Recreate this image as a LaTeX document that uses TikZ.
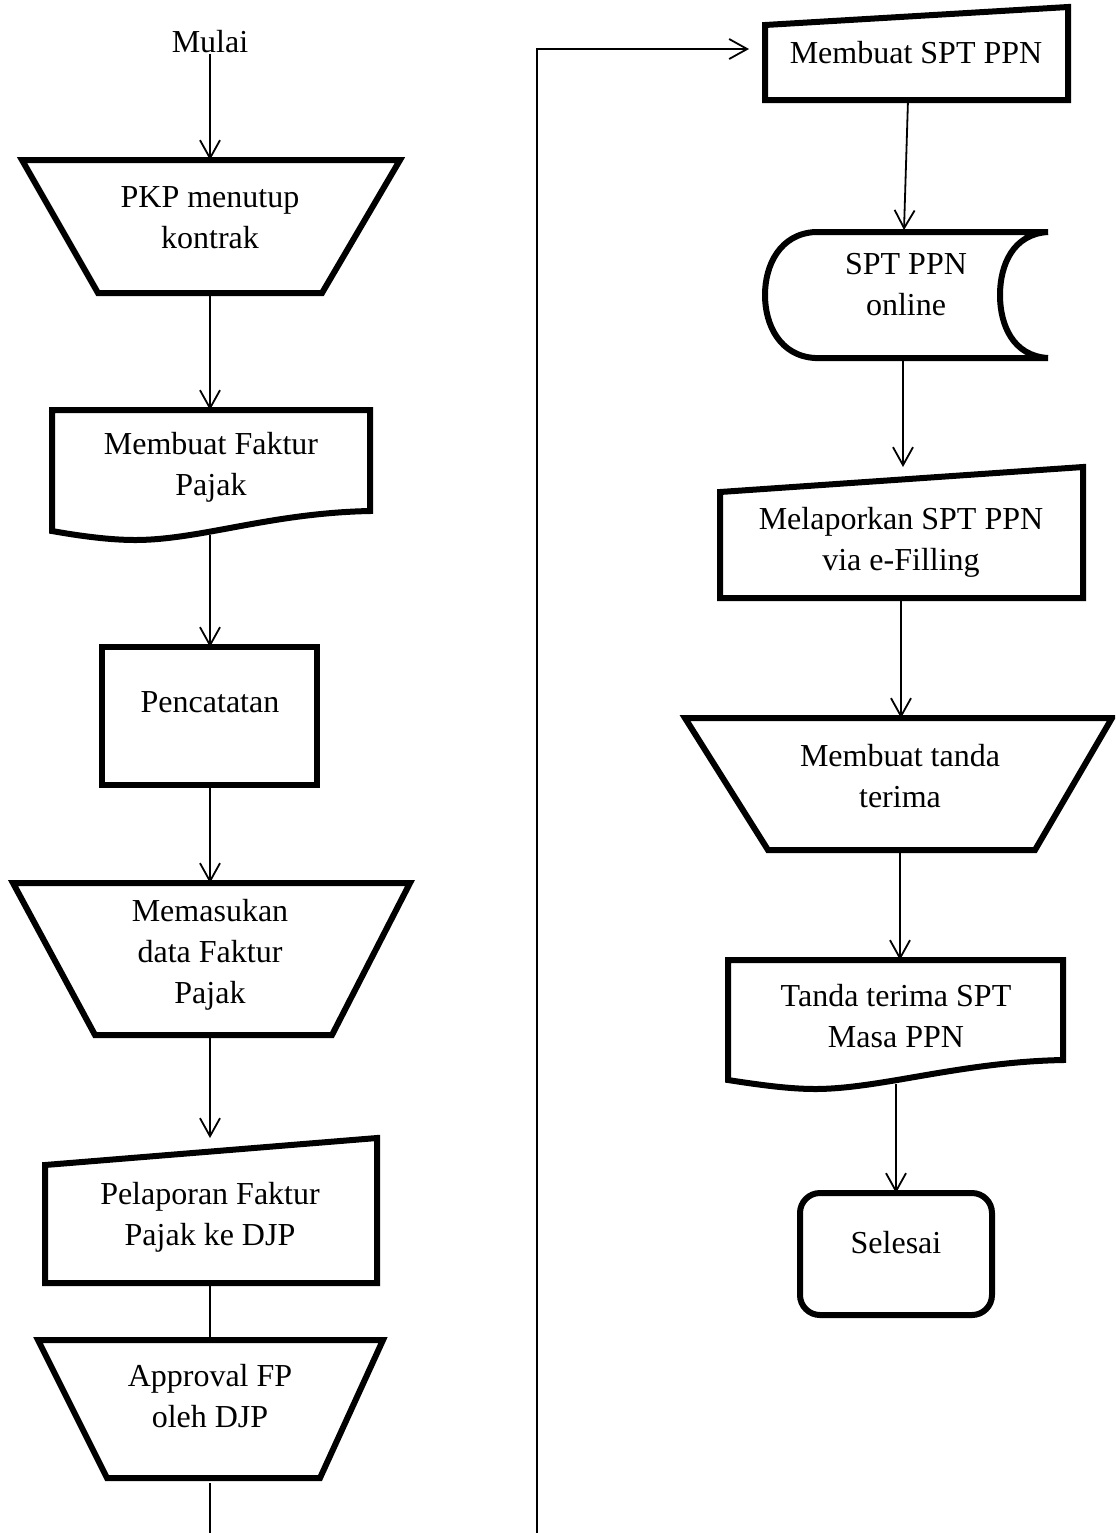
\documentclass[tikz,border=0pt]{standalone}
\usepackage{fontspec}
\setmainfont{Liberation Serif}
\usetikzlibrary{arrows.meta}

\begin{document}
\begin{tikzpicture}[x=0.5pt,y=-0.5pt,
  shp/.style={line width=3pt,line join=miter},
  flow/.style={line width=0.9pt,-{Straight Barb[length=9pt,width=10pt]}},
  link/.style={line width=0.9pt},
  lbl/.style={align=center,inner sep=0pt,font=\fontsize{16}{20.5}\selectfont}]
\path[use as bounding box,clip] (0,0) rectangle (1115,1533);

% kolom kiri
\node[lbl] (mulai) at (210,42) {Mulai};

\draw[shp] (22,160) -- (400,160) -- (322,293) -- (98,293) -- cycle;
\node[lbl] (pkp) at (210,218) {PKP menutup\\kontrak};
\coordinate (pkp-t) at (210,160);
\coordinate (pkp-b) at (210,293);

\draw[shp] (52,410) -- (370,410) -- (370,511)
  .. controls (270,513) and (200,540) .. (135,540)
  .. controls (110,540) and (80,536) .. (52,531) -- cycle;
\node[lbl] (faktur) at (211,467) {Membuat Faktur\\Pajak};
\coordinate (faktur-t) at (210,410);
\coordinate (faktur-b) at (210,535);

\draw[shp] (102,647) rectangle (317,785);
\node[lbl] (catat) at (210,702) {Pencatatan};
\coordinate (catat-t) at (210,647);
\coordinate (catat-b) at (210,785);

\draw[shp] (13,883) -- (410,883) -- (332,1035) -- (95,1035) -- cycle;
\node[lbl] (input) at (210,955) {Memasukan\\data Faktur\\Pajak};
\coordinate (input-t) at (210,883);
\coordinate (input-b) at (210,1035);

\draw[shp] (45,1165) -- (377,1138) -- (377,1283) -- (45,1283) -- cycle;
\node[lbl] (lapor) at (210,1217) {Pelaporan Faktur\\Pajak ke DJP};
\coordinate (lapor-t) at (210,1138);
\coordinate (lapor-b) at (210,1283);

\draw[shp] (38,1340) -- (383,1340) -- (320,1478) -- (107,1478) -- cycle;
\node[lbl] (appr) at (210,1396) {Approval FP\\oleh DJP};
\coordinate (appr-t) at (210,1340);
\coordinate (appr-b) at (210,1483);

% kolom kanan
\draw[shp] (765,25) -- (1068,7) -- (1068,100) -- (765,100) -- cycle;
\node[lbl] (spt) at (916,53) {Membuat SPT PPN};
\coordinate (spt-w) at (749,49);
\coordinate (spt-b) at (908,100);

\draw[shp] (1048,232) -- (815,232)
  .. controls (780,234) and (765,265) .. (765,295)
  .. controls (765,325) and (780,356) .. (815,358) -- (1048,358)
  .. controls (1013,356) and (1000,325) .. (1000,295)
  .. controls (1000,265) and (1013,234) .. (1048,232) -- cycle;
\node[lbl] (online) at (906,285) {SPT PPN\\online};
\coordinate (online-t) at (904,230);
\coordinate (online-b) at (903,358);

\draw[shp] (720,492) -- (1083,467) -- (1083,598) -- (720,598) -- cycle;
\node[lbl] (efil) at (901,542) {Melaporkan SPT PPN\\via e-Filling};
\coordinate (efil-t) at (903,467);
\coordinate (efil-b) at (901,598);

\draw[shp] (685,718) -- (1112,718) -- (1035,850) -- (768,850) -- cycle;
\node[lbl] (tanda) at (900,776) {Membuat tanda\\terima};
\coordinate (tanda-t) at (901,718);
\coordinate (tanda-b) at (900,850);

\draw[shp] (728,960) -- (1063,960) -- (1063,1060)
  .. controls (960,1062) and (880,1089) .. (815,1089)
  .. controls (790,1089) and (760,1085) .. (728,1080) -- cycle;
\node[lbl] (terima) at (896,1016) {Tanda terima SPT\\Masa PPN};
\coordinate (terima-t) at (900,960);
\coordinate (terima-b) at (896,1084);

\draw[shp,rounded corners=10pt] (800,1193) rectangle (992,1315);
\node[lbl] (selesai) at (896,1243) {Selesai};
\coordinate (selesai-t) at (896,1193);

% penghubung
\coordinate (turun) at (537,1560);
\draw[flow] (mulai) -- (pkp-t);
\draw[flow] (pkp-b) -- (faktur-t);
\draw[flow] (faktur-b) -- (catat-t);
\draw[flow] (catat-b) -- (input-t);
\draw[flow] (input-b) -- (lapor-t);
\draw[link] (lapor-b) -- (appr-t);
\draw[flow] (appr-b) |- (turun) |- (spt-w);
\draw[flow] (spt-b) -- (online-t);
\draw[flow] (online-b) -- (efil-t);
\draw[flow] (efil-b) -- (tanda-t);
\draw[flow] (tanda-b) -- (terima-t);
\draw[flow] (terima-b) -- (selesai-t);
\end{tikzpicture}
\end{document}
